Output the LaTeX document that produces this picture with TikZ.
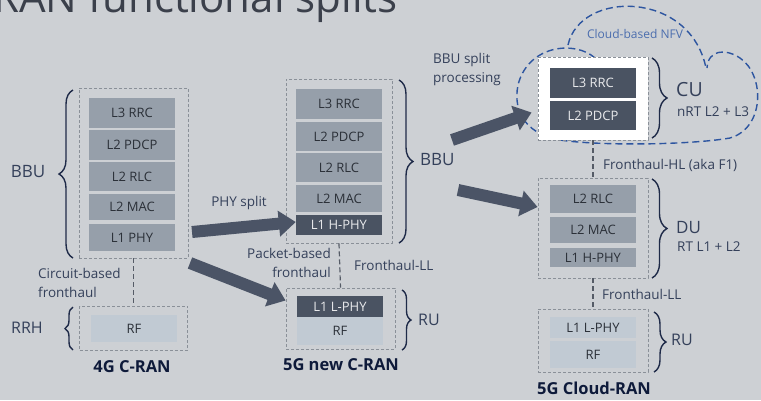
\documentclass[tikz,border=0pt]{standalone}
\usepackage{fontspec}
\setmainfont{Open Sans}
\usetikzlibrary{arrows.meta,decorations.pathreplacing}
\definecolor{bgc}{HTML}{CDD0D4}
\definecolor{midc}{HTML}{969FAA}
\definecolor{darkc}{HTML}{4A5362}
\definecolor{lightc}{HTML}{C1CAD3}
\definecolor{blktxt}{HTML}{2B3038}
\definecolor{labc}{HTML}{34405A}
\definecolor{bracec}{HTML}{1E2A48}
\definecolor{boldc}{HTML}{0E1A3A}
\definecolor{arrowc}{HTML}{4B5466}
\definecolor{framec}{HTML}{8A9098}
\definecolor{linkc}{HTML}{555B66}
\definecolor{cloudc}{HTML}{2D55A0}
\definecolor{titlec}{HTML}{3B404B}
\begin{document}
\begin{tikzpicture}[x=1pt,y=-1pt,
  blk/.style={minimum width=86pt, inner sep=0pt, font=\fontsize{13}{15}\selectfont, text=blktxt},
  mid/.style={blk, fill=midc},
  dark/.style={blk, fill=darkc, text=white!88!darkc},
  light/.style={blk, fill=lightc},
  frame/.style={draw=framec, dash pattern=on 3pt off 2pt, line width=0.8pt, inner sep=0pt},
  link/.style={draw=linkc, dash pattern=on 5pt off 3pt, line width=1.2pt},
  bigarrow/.style={draw=arrowc, line width=12pt, -{Triangle[length=17pt,width=25pt]}},
  bracestyle/.style={decorate, decoration={brace, amplitude=#1}, draw=bracec, line width=1.4pt},
  lab/.style={text=labc, font=\fontsize{13.5}{19}\selectfont, inner sep=0pt},
  big/.style={text=labc, inner sep=0pt},
  boldlab/.style={text=boldc, font=\fontsize{16.5}{20}\selectfont\bfseries, inner sep=0pt}
]
\useasboundingbox (0,0) rectangle (761,400);
\clip (0,0) rectangle (761,400);
\fill[bgc] (0,0) rectangle (761,400);

% title (cut off at the top)
\node[anchor=base west, inner sep=0pt, text=titlec, font=\fontsize{42}{50}\selectfont] (title) at (-7,12) {RAN functional splits};

% ---------- 4G C-RAN ----------
\node[frame, minimum width=109pt, minimum height=170pt] (box4) at (133.5,173) {};
\node[mid, minimum height=30pt] (a1) at (132,113) {L3 RRC};
\node[mid, minimum height=30pt] (a2) at (132,145) {L2 PDCP};
\node[mid, minimum height=29pt] (a3) at (132,176.5) {L2 RLC};
\node[mid, minimum height=26pt] (a4) at (132,207) {L2 MAC};
\node[mid, minimum height=27pt] (a5) at (132,237.5) {L1 PHY};
\node[frame, minimum width=108pt, minimum height=44pt] (rrh) at (133.5,328) {};
\node[light, minimum height=27pt] (rf4) at (134,328.5) {RF};
\draw[link] (box4.south) -- (rrh.north);
\draw[bracestyle=14] (73,258) -- (73,90);
\draw[bracestyle=8] (73,350) -- (73,307);
\node[big, font=\fontsize{17}{20}\selectfont] (bbu4) at (28,172) {BBU};
\node[big, font=\fontsize{16}{20}\selectfont] (rrhlab) at (27,328) {RRH};
\node[lab, align=left, anchor=west] (circ) at (38,282.5) {Circuit-based\\fronthaul};
\node[boldlab] (t4g) at (132,367) {4G C-RAN};

% ---------- 5G new C-RAN ----------
\node[frame, minimum width=106pt, minimum height=164pt] (box5) at (339,161) {};
\node[mid, minimum height=30pt] (b1) at (339,104) {L3 RRC};
\node[mid, minimum height=29pt] (b2) at (339,136.5) {L2 PDCP};
\node[mid, minimum height=29pt] (b3) at (339,167.5) {L2 RLC};
\node[mid, minimum height=27pt] (b4) at (339,198.5) {L2 MAC};
\node[dark, minimum height=20pt] (b5) at (339,225) {L1 H-PHY};
\node[frame, minimum width=109pt, minimum height=61pt] (ru5) at (340.5,318.5) {};
\node[dark, minimum height=21pt] (c1) at (340,306.5) {L1 L-PHY};
\node[light, minimum height=28pt] (c2) at (340,331) {RF};
\draw[link] (box5.south) -- (ru5.north);
\draw[bracestyle=14] (399,80) -- (399,243);
\draw[bracestyle=9] (402,290) -- (402,350);
\node[big, font=\fontsize{17}{20}\selectfont, anchor=west] (bbu5) at (420,160) {BBU};
\node[big, font=\fontsize{16}{20}\selectfont, anchor=west] (ru5lab) at (418,320) {RU};
\node[lab] (physplit) at (239,203) {PHY split};
\node[lab, align=right, anchor=east] (packet) at (331,263) {Packet-based\\fronthaul};
\node[lab, anchor=west] (fhll1) at (354,265) {Fronthaul-LL};
\node[boldlab] (t5g) at (341,365) {5G new C-RAN};

% ---------- 5G Cloud-RAN ----------
\draw[cloudc, line width=1.4pt, dash pattern=on 7pt off 4pt]
  (595,58) .. controls (575,40) and (528,45) .. (518,85)
  .. controls (512,115) and (530,135) .. (560,140)
  .. controls (600,146) and (690,145) .. (730,138)
  .. controls (765,128) and (765,75) .. (740,58)
  .. controls (725,48) and (708,50) .. (707,68);
\draw[cloudc, line width=1.4pt, dash pattern=on 7pt off 4pt]
  (568,45) .. controls (580,-10) and (690,-10) .. (706,68);
\node[text=cloudc!85!white, font=\fontsize{12}{14}\selectfont, inner sep=0pt] (nfv) at (635,34) {Cloud-based NFV};

\node[frame, fill=white, minimum width=110pt, minimum height=83pt] (cu) at (593,98.5) {};
\node[dark, minimum height=30pt] (d1) at (593,83) {L3 RRC};
\node[dark, minimum height=29pt] (d2) at (593,115.5) {L2 PDCP};
\draw[bracestyle=15] (652,58) -- (652,138);
\node[big, font=\fontsize{19.5}{22}\selectfont, anchor=west] (culab) at (676,90) {CU};
\node[big, font=\fontsize{13.5}{16}\selectfont, anchor=west] (cusub) at (677,112) {nRT L2 + L3};
\node[lab, align=left, anchor=west] (bbusplit) at (433,69.5) {BBU split\\processing};

\node[frame, minimum width=110pt, minimum height=100pt] (du) at (593,228) {};
\node[mid, minimum height=28pt] (e1) at (593,199) {L2 RLC};
\node[mid, minimum height=26pt] (e2) at (593,230) {L2 MAC};
\node[mid, minimum height=19pt] (e3) at (593,257.5) {L1 H-PHY};
\draw[bracestyle=15] (652,179) -- (652,278);
\node[big, font=\fontsize{17}{20}\selectfont, anchor=west] (dulab) at (676,228) {DU};
\node[big, font=\fontsize{13.5}{16}\selectfont, anchor=west] (dusub) at (677,247) {RT L1 + L2};

\node[frame, minimum width=110pt, minimum height=63pt] (ruc) at (593,340.5) {};
\node[light, minimum height=21pt] (f1) at (593,327.5) {L1 L-PHY};
\node[light, minimum height=27pt] (f2) at (593,354.5) {RF};
\draw[bracestyle=12] (654,312) -- (654,372);
\node[big, font=\fontsize{16}{20}\selectfont, anchor=west] (ruclab) at (671,340) {RU};

\draw[link] (cu.south) -- (du.north);
\draw[link] (du.south) -- (ruc.north);
\node[lab, anchor=west] (fhhl) at (603,165) {Fronthaul-HL (aka F1)};
\node[lab, anchor=west] (fhll2) at (602,294) {Fronthaul-LL};
\node[boldlab] (tcloud) at (594,388) {5G Cloud-RAN};

% ---------- big arrows ----------
\coordinate (s1) at (192,232);
\coordinate (s2) at (190,263);
\coordinate (s3) at (452,140);
\coordinate (s4) at (458,190);
\draw[bigarrow] (s1) -- ([yshift=3pt]b5.west);
\draw[bigarrow] (s2) -- ([yshift=18pt]ru5.west);
\draw[bigarrow] (s3) -- ([xshift=-6pt,yshift=-14pt]cu.west);
\draw[bigarrow] (s4) -- ([yshift=21pt]du.west);
\end{tikzpicture}
\end{document}
